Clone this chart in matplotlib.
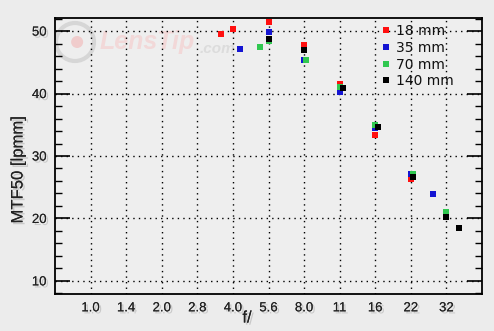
import matplotlib
matplotlib.use('Agg')
import matplotlib.pyplot as plt
import matplotlib.patheffects as pe
from matplotlib.ticker import FixedLocator, MultipleLocator, NullFormatter
from matplotlib.patches import Ellipse

# ---- data ----
fstops = [1.0, 1.414, 2.0, 2.828, 4.0, 5.657, 8.0, 11.31, 16.0, 22.63, 32.0]
fstop_labels = ['1.0', '1.4', '2.0', '2.8', '4.0', '5.6', '8.0', '11', '16', '22', '32']

series_names = ['18 mm', '35 mm', '70 mm', '140 mm']
f18 = [3.57, 4.0, 5.657, 8.0, 11.4, 16.0, 22.63]
m18 = [49.5, 50.4, 51.4, 47.7, 41.5, 33.3, 26.3]
f35 = [4.3, 5.657, 8.0, 11.31, 16.0, 22.63, 28.1]
m35 = [47.1, 49.8, 45.3, 40.3, 34.5, 27.1, 23.9]
f70 = [5.2, 5.657, 8.17, 11.31, 16.0, 23.07, 32.0]
m70 = [47.4, 48.4, 45.3, 41.0, 34.9, 27.1, 21.1]
f140 = [5.657, 8.0, 11.68, 16.47, 23.07, 32.0, 36.2]
m140 = [48.8, 46.9, 40.9, 34.6, 26.7, 20.3, 18.4]
colors = ['#ff1010', '#1414d2', '#30c850', '#000000']

fig = plt.figure(figsize=(4.94, 3.31), dpi=100, facecolor='#ececec')
ax = fig.add_axes([55/494, 1-294/331, 427/494, 276/331])
ax.set_facecolor('#eeeeee')

shadow = [pe.withSimplePatchShadow(offset=(1.5, -1.5), shadow_rgbFace='#888888', alpha=0.35), pe.Normal()]

# watermark
cx, cy = (75-55)/427, (294-42)/276
ax.add_patch(Ellipse((cx, cy), 38/427, 38/276, transform=ax.transAxes, fill=False,
                     ec='#d6d6d6', lw=3, zorder=0.5))
ax.add_patch(Ellipse((cx + 0.005, cy), 12/427, 12/276, transform=ax.transAxes,
                     fc='#f0cccc', ec='none', zorder=0.5))
ax.text((100-55)/427, (294-42)/276, 'LensTip', transform=ax.transAxes, fontsize=18,
        fontweight='bold', fontstyle='italic', color='#f2d8d8', va='center', ha='left',
        zorder=0.5, family='Liberation Sans')
ax.text((200-55)/427, (294-49)/276, '.com', transform=ax.transAxes, fontsize=11,
        fontweight='bold', fontstyle='italic', color='#dcdcdc', va='center', ha='left',
        zorder=0.5, family='Liberation Sans')

xs = [f18, f35, f70, f140]
ys = [m18, m35, m70, m140]
for x, y, c, n in zip(xs, ys, colors, series_names):
    ax.plot(x, y, linestyle='none', marker='s', markersize=3.7, color=c,
            markeredgewidth=0, label=n, zorder=3)

ax.set_xscale('log', base=2)
ax.set_xlim(2 ** -0.5, 2 ** 5.5)
ax.set_ylim(7.9, 52.1)
ax.xaxis.set_major_locator(FixedLocator(fstops))
ax.xaxis.set_minor_locator(FixedLocator([]))
ax.set_xticklabels(fstop_labels)
ax.yaxis.set_major_locator(MultipleLocator(10))
ax.yaxis.set_minor_locator(MultipleLocator(2))
ax.yaxis.set_minor_formatter(NullFormatter())

ax.grid(True, which='major', color='black', linestyle=(0, (1, 3)), linewidth=1.0, zorder=1)
ax.tick_params(axis='x', which='both', length=0, pad=6, labelsize=9.5, labelcolor='#222222')
ax.tick_params(axis='y', which='major', direction='in', length=10.5, width=1.2,
               left=True, right=True, pad=6, labelsize=9.5, labelcolor='#222222')
ax.tick_params(axis='y', which='minor', direction='in', length=5, width=1.0,
               left=True, right=True)
for lab in ax.get_xticklabels() + ax.get_yticklabels():
    lab.set_family('Liberation Sans')
    lab.set_path_effects(shadow)
for s in ax.spines.values():
    s.set_linewidth(1.3)

fig.text(247/494, 1-318/331, 'f/', ha='center', va='center', fontsize=12,
         color='#222222', family='Liberation Sans', path_effects=shadow)
fig.text(18/494, 1-170/331, 'MTF50 [lpmm]', ha='center', va='center', rotation=90,
         fontsize=12, color='#222222', family='Liberation Sans', path_effects=shadow)

leg = ax.legend(loc='upper left', bbox_to_anchor=((376-55)/427, 1.0), frameon=False,
                fontsize=10, handlelength=0.6, handletextpad=0.4, labelspacing=0.19,
                borderaxespad=0.05, markerscale=1.0)
for t in leg.get_texts():
    t.set_color('#111111')

fig.savefig('out.png', dpi=100, facecolor=fig.get_facecolor())
